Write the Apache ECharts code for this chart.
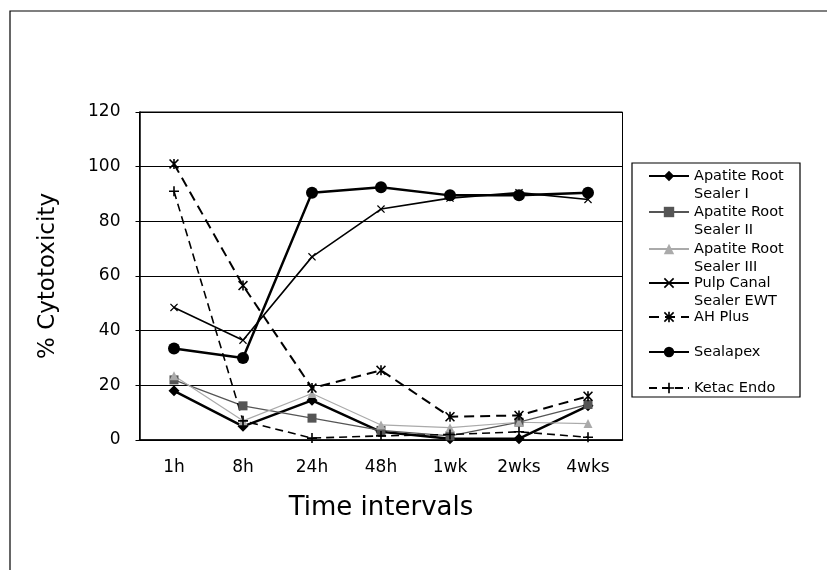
<!DOCTYPE html>
<html>
<head>
<meta charset="utf-8">
<script src="https://cdn.jsdelivr.net/npm/echarts@6/dist/echarts.min.js"></script>
<style>
  html, body { margin: 0; padding: 0; background: #fff; }
  #chart { width: 827px; height: 570px; }
</style>
</head>
<body>
<div id="chart"></div>
<script>
// time points on the x axis
const categories = ['1h', '8h', '24h', '48h', '1wk', '2wks', '4wks']

// % cytotoxicity
const sealerI = [18, 5, 14.5, 3, 0.5, 0.5, 12.5]
const sealerII = [22, 12.5, 8, 3.5, 1.5, 6.5, 13]
const sealerIII = [23.5, 7, 17, 5.5, 4.5, 6.5, 6]
const pulpCanal = [48.5, 36.5, 67, 84.5, 88.5, 90.5, 88]
const ahPlus = [101, 56.5, 19, 25.5, 8.5, 9, 16]
const sealapex = [33.5, 30, 90.5, 92.5, 89.5, 89.5, 90.5]
const ketacEndo = [91, 7, 0.7, 1.5, 2, 3, 1]

const yTicks = { min: 0, max: 120, step: 20 }

/** marker shapes (Excel-like) */
const PLUS = 'path://M4.2,0h1.6v4.2h4.2v1.6h-4.2v4.2h-1.6v-4.2h-4.2v-1.6h4.2z'
const CROSS = 'path://M0,1.1L1.1,0L5,3.9L8.9,0L10,1.1L6.1,5L10,8.9L8.9,10L5,6.1L1.1,10L0,8.9L3.9,5z'
const STAR = 'path://M4.2,0h1.6v3.1L8.9,0L10,1.1L6.1,5L10,8.9L8.9,10L5.8,6.9v3.1h-1.6v-3.1L1.1,10L0,8.9L3.9,5L0,1.1L1.1,0L4.2,3.1z'

const FONT = 'DejaVu Sans'
const LH = 18.5

const chart = echarts.init(document.getElementById('chart'))

const seriesDefs = [
  { name: 'Apatite Root Sealer I', label: '\nApatite Root\nSealer I', data: sealerI, symbol: 'diamond', size: 11, color: '#000', lw: 2.5, type: 'solid', cy: 176 },
  { name: 'Apatite Root Sealer II', label: '\nApatite Root\nSealer II', data: sealerII, symbol: 'rect', size: 9, color: '#555', lw: 1.3, type: 'solid', cy: 212 },
  { name: 'Apatite Root Sealer III', label: '\nApatite Root\nSealer III', data: sealerIII, symbol: 'triangle', size: 9, color: '#aaa', lw: 1.2, type: 'solid', cy: 249 },
  { name: 'Pulp Canal Sealer EWT', label: '\nPulp Canal\nSealer EWT', data: pulpCanal, symbol: CROSS, size: 8, color: '#000', lw: 1.6, type: 'solid', cy: 283 },
  { name: 'AH Plus', label: 'AH Plus', data: ahPlus, symbol: STAR, size: 10, color: '#000', lw: 2, type: [10, 6], cy: 317 },
  { name: 'Sealapex', label: 'Sealapex', data: sealapex, symbol: 'circle', size: 12, color: '#000', lw: 2.5, type: 'solid', cy: 352 },
  { name: 'Ketac Endo', label: 'Ketac Endo', data: ketacEndo, symbol: PLUS, size: 10, color: '#000', lw: 1.6, type: [8, 5], cy: 388 }
]

const series = seriesDefs.map(d => ({
  name: d.name,
  type: 'line',
  data: d.data,
  symbol: d.symbol,
  symbolSize: d.size,
  itemStyle: { color: d.color },
  lineStyle: { color: d.color, width: d.lw, type: d.type },
  animation: false
}))

// one legend per entry so each row sits where the original put it
const legends = seriesDefs.map(d => {
  const twoLine = d.label.startsWith('\n')
  return {
    data: [d.name],
    left: 648,
    top: twoLine ? d.cy - 1.5 * LH : d.cy - LH / 2,
    padding: 0,
    itemWidth: 40,
    itemHeight: 13,
    selectedMode: false,
    formatter: () => d.label,
    textStyle: { fontFamily: FONT, fontSize: 14.5, color: '#000', lineHeight: LH }
  }
})

chart.setOption({
  backgroundColor: '#fff',
  animation: false,
  grid: {
    left: 139.5, right: 204.5, top: 112, bottom: 130,
    show: true, borderColor: '#000', borderWidth: 1
  },
  legend: legends,
  graphic: [
    // outer frame of the figure
    { type: 'polyline', shape: { points: [[10, 570], [10, 11], [827, 11]] }, style: { stroke: '#000', lineWidth: 1.2, fill: null } },
    // legend box
    { type: 'rect', shape: { x: 632, y: 163, width: 168, height: 234 }, style: { stroke: '#000', lineWidth: 1.2, fill: null } }
  ],
  xAxis: {
    type: 'category',
    data: categories,
    boundaryGap: true,
    name: 'Time intervals',
    nameLocation: 'middle',
    nameGap: 55,
    nameTextStyle: { fontFamily: FONT, fontSize: 26, color: '#000' },
    axisLine: { lineStyle: { color: '#000', width: 1.5 } },
    axisTick: { inside: true, length: 6, lineStyle: { color: '#000' } },
    axisLabel: { fontFamily: FONT, fontSize: 17, color: '#000', margin: 19 }
  },
  yAxis: {
    type: 'value',
    min: yTicks.min,
    max: yTicks.max,
    interval: yTicks.step,
    name: '% Cytotoxicity',
    nameLocation: 'middle',
    nameGap: 80,
    nameTextStyle: { fontFamily: FONT, fontSize: 23, color: '#000' },
    axisLine: { show: true, lineStyle: { color: '#000', width: 1.5 } },
    axisTick: { show: true, length: 4, lineStyle: { color: '#000' } },
    axisLabel: { fontFamily: FONT, fontSize: 17, color: '#000', margin: 19 },
    splitLine: { lineStyle: { color: '#000', width: 1 } }
  },
  series
})
</script>
</body>
</html>
